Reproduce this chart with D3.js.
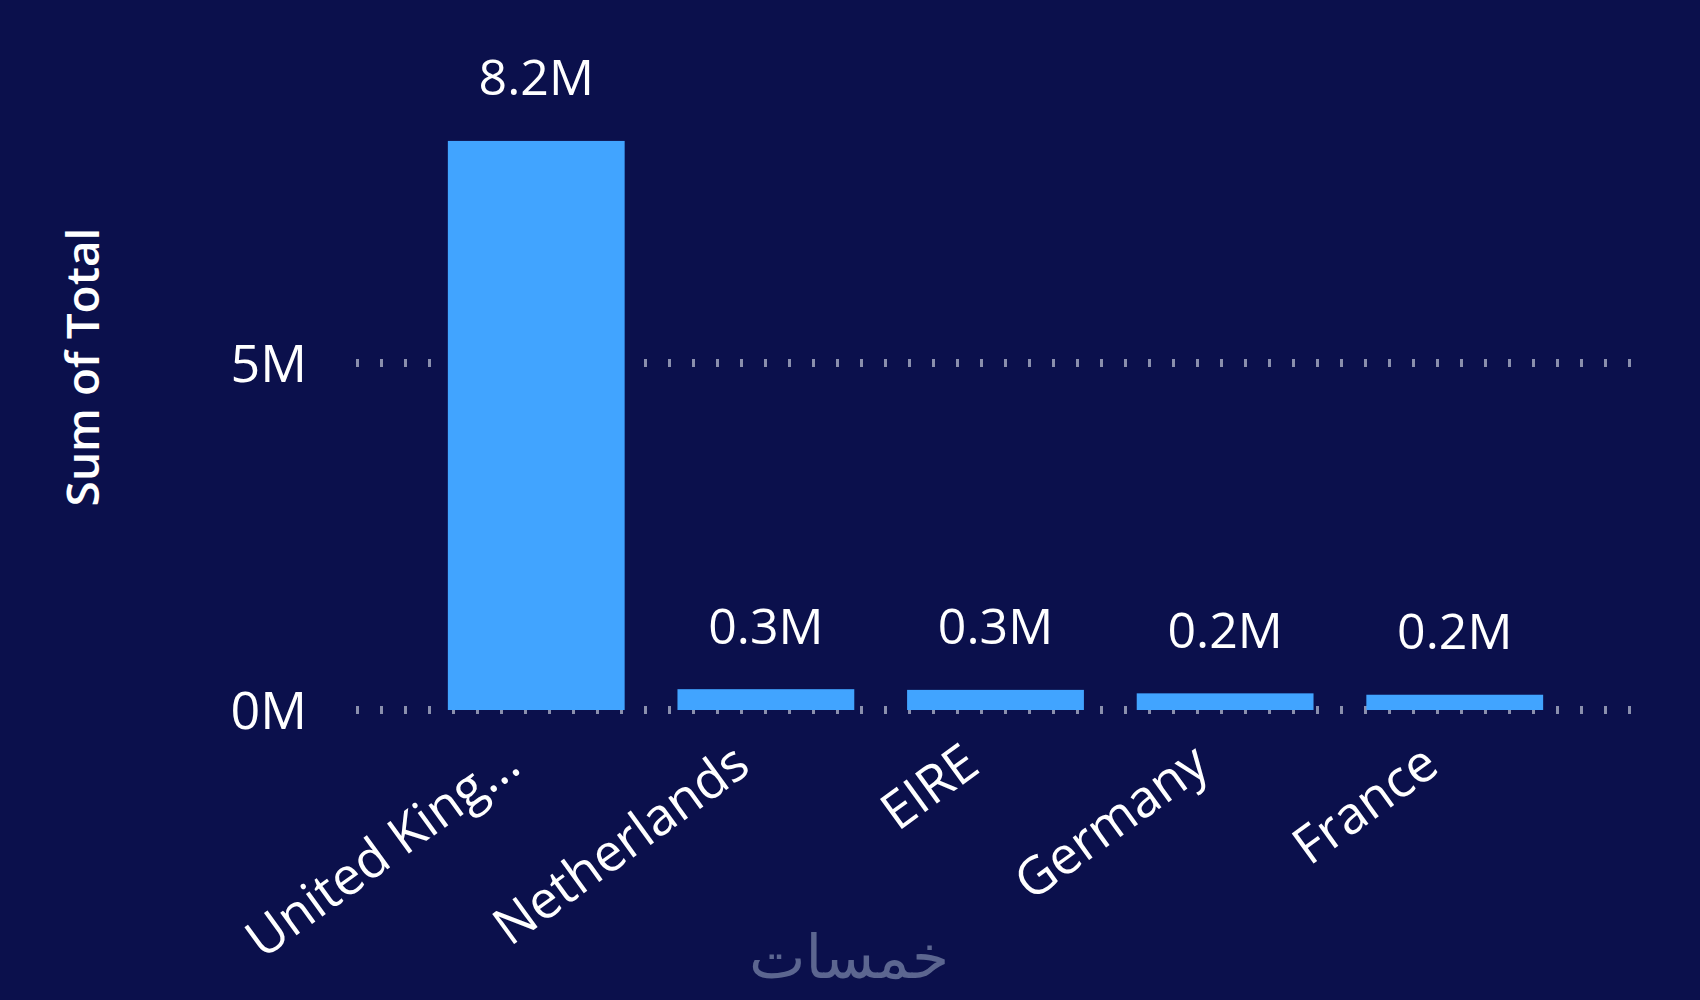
<!DOCTYPE html>
<html>
<head>
<meta charset="utf-8">
<script src="https://cdn.jsdelivr.net/npm/d3@7"></script>
<style>
  html, body { margin: 0; padding: 0; background: #0b104c; }
  svg { display: block; }
</style>
</head>
<body>
<svg id="chart" width="1700" height="1000"></svg>
<script>
// ---- data ----
const categories = ["United King...", "Netherlands", "EIRE", "Germany", "France"];
const totals = [8.2, 0.30, 0.29, 0.24, 0.22]; // millions
const valueLabels = ["8.2M", "0.3M", "0.3M", "0.2M", "0.2M"];
const yTicks = [0, 5];
const yTickLabels = ["0M", "5M"];
const yTitle = "Sum of Total";
const watermark = "خمسات";

// ---- layout ----
const W = 1700, H = 1000;
const svg = d3.select("#chart");
svg.append("rect").attr("width", W).attr("height", H).attr("fill", "#0b104c");

const x = d3.scaleBand().domain(categories).range([356, 1635]).paddingInner(0.23).paddingOuter(0.4);
const y = d3.scaleLinear().domain([0, 10]).range([710, 16]);

const font = "'Open Sans', 'Noto Sans', sans-serif";

// gridlines
svg.append("g").selectAll("line").data(yTicks).join("line")
  .attr("x1", 356).attr("x2", 1635)
  .attr("y1", d => y(d)).attr("y2", d => y(d))
  .attr("stroke", "#8a8fad").attr("stroke-width", 8)
  .attr("stroke-dasharray", "3,21");

// y axis tick labels
const yAxis = d3.axisLeft(y).tickValues(yTicks).tickSize(0).tickPadding(0)
  .tickFormat((d, i) => yTickLabels[i]);
const gy = svg.append("g").attr("transform", "translate(307,0)").call(yAxis);
gy.select(".domain").remove();
gy.selectAll("text").attr("fill", "#ffffff").attr("font-family", font)
  .attr("font-size", 52).attr("dy", "0.35em");

// y title
svg.append("text")
  .attr("transform", "translate(99,367) rotate(-90)")
  .attr("text-anchor", "middle")
  .attr("fill", "#ffffff").attr("font-family", font)
  .attr("font-weight", 600).attr("font-size", 46)
  .text(yTitle);

// bars
svg.append("g").selectAll("rect").data(categories).join("rect")
  .attr("x", d => x(d))
  .attr("width", x.bandwidth())
  .attr("y", (d, i) => y(totals[i]))
  .attr("height", (d, i) => y(0) - y(totals[i]))
  .attr("fill", "#41a4ff");

// value labels
svg.append("g").selectAll("text").data(categories).join("text")
  .attr("x", d => x(d) + x.bandwidth() / 2)
  .attr("y", (d, i) => y(totals[i]) - 63)
  .attr("dy", "0.35em")
  .attr("text-anchor", "middle")
  .attr("fill", "#ffffff").attr("font-family", font).attr("font-size", 50)
  .text((d, i) => valueLabels[i]);

// x axis labels
const xAxis = d3.axisBottom(x).tickSize(0).tickPadding(0);
const gx = svg.append("g").attr("transform", "translate(0,756)").call(xAxis);
gx.select(".domain").remove();
gx.selectAll("text")
  .attr("fill", "#ffffff").attr("font-family", font).attr("font-size", 52)
  .attr("text-anchor", "end")
  .attr("y", 0).attr("dy", "0.35em")
  .attr("transform", "translate(-24,0) rotate(-36)");

// watermark
svg.append("text")
  .attr("x", 849).attr("y", 978)
  .attr("text-anchor", "middle")
  .attr("fill", "#5c6690").attr("font-family", "'DejaVu Sans', 'Noto Sans', sans-serif")
  .attr("font-size", 60)
  .text(watermark);
</script>
</body>
</html>
